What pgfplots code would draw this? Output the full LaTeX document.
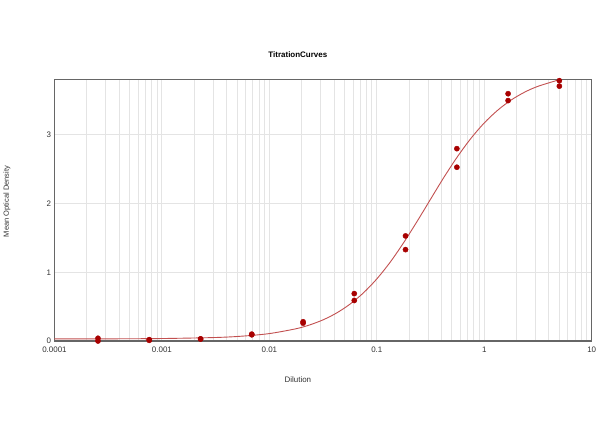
\documentclass[border=0pt]{standalone}
\usepackage{fontspec}
\setmainfont{Liberation Sans}
\usepackage{pgfplots}
\pgfplotsset{compat=1.18}
\definecolor{ptred}{HTML}{A80000}
\definecolor{fitred}{HTML}{C25050}
\definecolor{gridc}{HTML}{E4E4E4}
\begin{document}
\begin{tikzpicture}
\begin{axis}[
  scale only axis,
  width=537.2bp, height=261.7bp,
  xmode=log,
  xmin=0.0001, xmax=10,
  ymin=0, ymax=3.81,
  xtick={0.0001,0.001,0.01,0.1,1,10},
  xticklabels={0.0001,0.001,0.01,0.1,1,10},
  ytick={0,1,2,3},
  minor xtick={0.0002,0.0003,0.0004,0.0005,0.0006,0.0007,0.0008,0.0009,
               0.002,0.003,0.004,0.005,0.006,0.007,0.008,0.009,
               0.02,0.03,0.04,0.05,0.06,0.07,0.08,0.09,
               0.2,0.3,0.4,0.5,0.6,0.7,0.8,0.9,
               2,3,4,5,6,7,8,9},
  xmajorgrids, xminorgrids, ymajorgrids,
  grid style={draw=gridc, line width=0.9bp},
  minor grid style={draw=gridc, line width=0.9bp},
  major tick length=0pt, minor tick length=0pt,
  axis line style={draw=black!60, line width=1.3bp},
  /pgf/number format/assume math mode=true,
  tick label style={font=\fontsize{8}{9}\selectfont, text=black!80},
  xticklabel style={yshift=-2.5bp},
  title={TitrationCurves},
  title style={at={(0.453,1.0695)}, anchor=center, font=\fontsize{8}{9}\selectfont\bfseries},
  xlabel={Dilution},
  xlabel style={at={(0.453,-0.149)}, anchor=center, font=\fontsize{8}{9}\selectfont, text=black!80},
  ylabel={Mean Optical Density},
  ylabel style={at={(-0.0885,0.533)}, anchor=center, font=\fontsize{7.5}{9}\selectfont, text=black!80},
  clip=false,
]
\coordinate (sw) at (rel axis cs:0,0);
\coordinate (ne) at (rel axis cs:1,1);
% fitted curve (4PL), values tabulated
\addplot[fitred, line width=0.9bp, smooth, mark=none] coordinates {
 (0.0001,0.030) (0.0003162,0.0315) (0.001,0.036) (0.003162,0.051)
 (0.005623,0.071) (0.01,0.108) (0.01778,0.179) (0.02371,0.234)
 (0.03162,0.308) (0.04217,0.407) (0.05623,0.536) (0.07499,0.700)
 (0.1,0.904) (0.1334,1.149) (0.1778,1.432) (0.2371,1.741)
 (0.3162,2.064) (0.4217,2.384) (0.5623,2.682) (0.7499,2.948)
 (1,3.175) (1.334,3.360) (1.778,3.508) (2.371,3.622)
 (3.162,3.708) (5,3.804)
};
% data points
\addplot[only marks, mark=*, mark size=2.6bp, mark options={fill=ptred, draw=ptred}] coordinates {
 (0.000254,0.04) (0.000254,0.00)
 (0.000762,0.01) (0.000762,0.02)
 (0.00229,0.03) (0.00229,0.03)
 (0.00686,0.09) (0.00686,0.10)
 (0.0206,0.26) (0.0206,0.28)
 (0.0617,0.59) (0.0617,0.69)
 (0.185,1.33) (0.185,1.53)
 (0.556,2.53) (0.556,2.80)
 (1.667,3.50) (1.667,3.60)
 (5,3.71) (5,3.79)
};
\end{axis}
\path (sw) ++(-54.5bp,-106bp) rectangle ([shift={(8.3bp,79.3bp)}]ne);
\end{tikzpicture}
\end{document}
